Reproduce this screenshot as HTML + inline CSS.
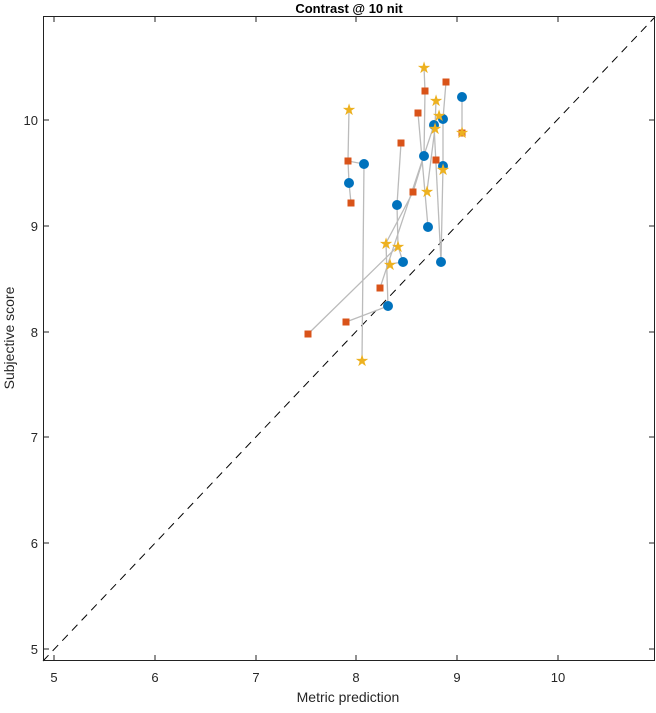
<!DOCTYPE html><html><head><style>body{margin:0;background:#fff}svg{font-family:"Liberation Sans",sans-serif}</style></head><body>
<svg width="656" height="708" xmlns="http://www.w3.org/2000/svg">
<rect x="0" y="0" width="656" height="708" fill="#fff"/>
<text x="349" y="13" text-anchor="middle" font-size="13" font-weight="bold">Contrast @ 10 nit</text>
<line x1="43" y1="661" x2="655" y2="17" stroke="#000" stroke-dasharray="8,6" stroke-width="1"/>
<g stroke="#bbb" stroke-width="1.3" fill="none">
<polyline points="349,109 348,161 349,183 351,203"/>
<polyline points="348,161 364,164 362,360"/>
<polyline points="401,143 397,205 398,246"/>
<polyline points="424,67 425,91 424,156 413,192 386,243 388,306 346,322"/>
<polyline points="446,82 443,119 443,166 441,262"/>
<polyline points="462,97 462,132"/>
<polyline points="418,113 428,227"/>
<polyline points="436,100 435,128 427,191"/>
<polyline points="434,125 380,288"/>
<polyline points="308,334 398,246 403,262"/>
<polyline points="434,125 441,262"/>
<polyline points="390,264 403,262"/>
</g>
<g fill="#0072BD">
<circle cx="349" cy="183" r="5"/><circle cx="364" cy="164" r="5"/><circle cx="397" cy="205" r="5"/><circle cx="403" cy="262" r="5"/><circle cx="388" cy="306" r="5"/><circle cx="424" cy="156" r="5"/><circle cx="434" cy="125" r="5"/><circle cx="443" cy="119" r="5"/><circle cx="462" cy="97" r="5"/><circle cx="428" cy="227" r="5"/><circle cx="441" cy="262" r="5"/><circle cx="443" cy="166" r="5"/>
</g>
<g fill="#D95319">
<rect x="344.5" y="157.5" width="7" height="7"/><rect x="347.5" y="199.5" width="7" height="7"/><rect x="397.5" y="139.5" width="7" height="7"/><rect x="414.5" y="109.5" width="7" height="7"/><rect x="421.5" y="87.5" width="7" height="7"/><rect x="442.5" y="78.5" width="7" height="7"/><rect x="432.5" y="156.5" width="7" height="7"/><rect x="409.5" y="188.5" width="7" height="7"/><rect x="376.5" y="284.5" width="7" height="7"/><rect x="342.5" y="318.5" width="7" height="7"/><rect x="304.5" y="330.5" width="7" height="7"/><rect x="458.5" y="129.5" width="7" height="7"/>
</g>
<g fill="#EDB120" font-size="16" text-anchor="middle">
<text x="349" y="115">★</text><text x="424" y="73">★</text><text x="436" y="106">★</text><text x="439" y="121">★</text><text x="435" y="134">★</text><text x="443" y="175">★</text><text x="427" y="197">★</text><text x="386" y="249">★</text><text x="398" y="252">★</text><text x="390" y="270">★</text><text x="362" y="366">★</text><text x="462" y="138">★</text>
</g>
<rect x="43.5" y="16.5" width="611" height="644" fill="none" stroke="#222" stroke-width="1"/>
<g stroke="#222" stroke-width="1">
<line x1="54" y1="661" x2="54" y2="655"/><line x1="155" y1="661" x2="155" y2="655"/><line x1="256" y1="661" x2="256" y2="655"/><line x1="356" y1="661" x2="356" y2="655"/><line x1="457" y1="661" x2="457" y2="655"/><line x1="558" y1="661" x2="558" y2="655"/>
<line x1="54" y1="17" x2="54" y2="22"/><line x1="155" y1="17" x2="155" y2="22"/><line x1="256" y1="17" x2="256" y2="22"/><line x1="356" y1="17" x2="356" y2="22"/><line x1="457" y1="17" x2="457" y2="22"/><line x1="558" y1="17" x2="558" y2="22"/>
<line x1="43" y1="649" x2="49" y2="649"/><line x1="43" y1="543" x2="49" y2="543"/><line x1="43" y1="437" x2="49" y2="437"/><line x1="43" y1="332" x2="49" y2="332"/><line x1="43" y1="226" x2="49" y2="226"/><line x1="43" y1="120" x2="49" y2="120"/>
<line x1="655" y1="649" x2="649" y2="649"/><line x1="655" y1="543" x2="649" y2="543"/><line x1="655" y1="437" x2="649" y2="437"/><line x1="655" y1="332" x2="649" y2="332"/><line x1="655" y1="226" x2="649" y2="226"/><line x1="655" y1="120" x2="649" y2="120"/>
</g>
<g font-size="13" fill="#262626" text-anchor="middle">
<text x="54" y="682">5</text><text x="155" y="682">6</text><text x="256" y="682">7</text><text x="356" y="682">8</text><text x="457" y="682">9</text><text x="558" y="682">10</text>
</g>
<g font-size="13" fill="#262626" text-anchor="end">
<text x="38" y="654">5</text><text x="38" y="548">6</text><text x="38" y="442">7</text><text x="38" y="337">8</text><text x="38" y="231">9</text><text x="38" y="125">10</text>
</g>
<text x="348" y="702" text-anchor="middle" font-size="14" fill="#262626">Metric prediction</text>
<text transform="translate(14,338) rotate(-90)" text-anchor="middle" font-size="14" fill="#262626">Subjective score</text>
</svg></body></html>
